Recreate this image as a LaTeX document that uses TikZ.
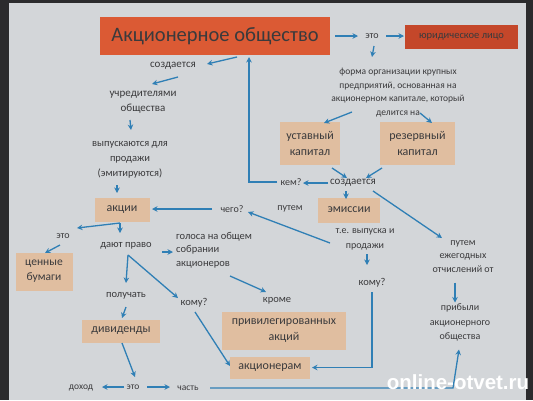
\documentclass[tikz,border=0pt]{standalone}
\usepackage{fontspec}
\setmainfont{Carlito}
\newfontfamily\wmfont{Liberation Sans}
\usetikzlibrary{calc,arrows.meta}
\definecolor{bgc}{HTML}{D3D6D9}
\definecolor{edgec}{HTML}{2B2B2D}
\definecolor{tc}{HTML}{3A3A3C}
\definecolor{ac}{HTML}{2F7FB5}
\definecolor{tanc}{HTML}{E0BEA0}
\definecolor{titlec}{HTML}{DB5A34}
\definecolor{jurc}{HTML}{C4472A}
\tikzset{
  txt/.style={font=\fontsize{11}{15}\selectfont, text=tc, align=center, inner sep=1pt},
  smalltxt/.style={font=\fontsize{9.5}{13.7}\selectfont, text=tc, align=center, inner sep=1pt},
  tanbox/.style={fill=tanc, font=\fontsize{12}{16}\selectfont, text=tc, align=center, inner sep=2pt},
  arr/.style={draw=ac, line width=1.3pt, -{Stealth[length=5.5pt,width=5.5pt]}},
}
\begin{document}
\begin{tikzpicture}[x=1pt,y=-1pt]
\useasboundingbox (0,0) rectangle (533,400);
\fill[bgc] (0,0) rectangle (533,400);
\fill[edgec] (0,0) rectangle (9,400);
\fill[edgec] (526,0) rectangle (533,400);
\fill[edgec] (0,0) rectangle (533,3);

% nodes
\node[fill=titlec, minimum width=230pt, minimum height=38pt, text=tc, font=\fontsize{20.5}{24}\selectfont] (title) at (215,36) {Акционерное общество};
\node[txt, font=\fontsize{10}{12}\selectfont] (eto1) at (372,36) {это};
\node[fill=jurc, minimum width=113pt, minimum height=24pt, text=tc, font=\fontsize{10.5}{12}\selectfont, inner sep=1pt] (jur) at (461.5,37) {юридическое лицо};
\node[smalltxt] (forma) at (398,92.5) {форма организации крупных\\предприятий, основанная на\\акционерном капитале, который\\делится на};
\node[tanbox, minimum width=60pt, minimum height=43pt] (ust) at (310,143.5) {уставный\\капитал};
\node[tanbox, minimum width=75pt, minimum height=43pt] (rez) at (417.5,143.5) {резервный\\капитал};
\node[txt] (soz2) at (353,183) {создается};
\node[txt, font=\fontsize{10}{12}\selectfont] (kem) at (291,182) {кем?};
\node[tanbox, minimum width=62pt, minimum height=25pt] (emis) at (349,210) {эмиссии};
\node[txt, font=\fontsize{10}{12}\selectfont] (putem1) at (290,209) {путем};
\node[txt, font=\fontsize{10}{15}\selectfont] (tev) at (365,239) {т.е. выпуска и\\продажи};
\node[txt, font=\fontsize{10}{12}\selectfont] (chego) at (232,209) {чего?};
\node[tanbox, minimum width=55pt, minimum height=24pt] (akcii) at (122,210) {акции};
\node[txt, font=\fontsize{10.5}{15}\selectfont] (vyp) at (130,160) {выпускаются для\\продажи\\(эмитируются)};
\node[txt] (uchr) at (143,102.5) {учредителями\\общества};
\node[txt] (soz1) at (173,66) {создается};
\node[txt, font=\fontsize{10}{12}\selectfont] (eto2) at (63,236) {это};
\node[tanbox, minimum width=57pt, minimum height=38pt, font=\fontsize{11.5}{15}\selectfont] (cen) at (44,271.5) {ценные\\бумаги};
\node[txt, font=\fontsize{10.5}{12}\selectfont] (dayut) at (126,246) {дают право};
\node[txt, align=left, anchor=west, font=\fontsize{10.5}{13.5}\selectfont] (golosa) at (175,250) {голоса на общем\\собрании\\акционеров};
\node[txt, font=\fontsize{10.5}{12}\selectfont] (poluch) at (126,296) {получать};
\node[txt, font=\fontsize{10.5}{12}\selectfont] (komu1) at (194,303) {кому?};
\node[txt, font=\fontsize{10.5}{12}\selectfont] (krome) at (277,301) {кроме};
\node[tanbox, minimum width=124pt, minimum height=38pt] (priv) at (284,331) {привилегированных\\акций};
\node[tanbox, minimum width=80pt, minimum height=22pt] (akcner) at (270,367.5) {акционерам};
\node[txt, font=\fontsize{10.5}{12}\selectfont] (komu2) at (372,283) {кому?};
\node[txt, font=\fontsize{10}{13.5}\selectfont] (putem2) at (463,256.5) {путем\\ежегодных\\отчислений от};
\node[txt, font=\fontsize{10}{14.5}\selectfont] (prib) at (460,322.5) {прибыли\\акционерного\\общества};
\node[tanbox, minimum width=78pt, minimum height=23pt] (div) at (121,331) {дивиденды};
\node[txt, font=\fontsize{9.5}{12}\selectfont] (dohod) at (81,388) {доход};
\node[txt, font=\fontsize{9.5}{12}\selectfont] (eto3) at (133,387) {это};
\node[txt, font=\fontsize{9.5}{12}\selectfont] (chast) at (188,388) {часть};
\coordinate (corner) at (453,388);

% connectors
\draw[arr] ($(title)+(120,0)$) -- ($(eto1)+(-14,0)$);
\draw[arr] ($(eto1)+(14,0)$) -- ($(jur)+(-57.5,-1)$);
\draw[arr] ($(eto1)+(2,10)$) -- ($(forma)+(-26,-35.5)$);
\draw[arr] ($(forma)+(-46,19.5)$) -- ($(ust)+(14,-20.5)$);
\draw[arr] ($(forma)+(22,20.5)$) -- ($(rez)+(14.5,-20.5)$);
\draw[arr] ($(ust)+(22,24.5)$) -- ($(soz2)+(-6,-5)$);
\draw[arr] ($(rez)+(-35.5,24.5)$) -- ($(soz2)+(13,-5)$);
\draw[arr] ($(soz2)+(-25,0)$) -- ($(kem)+(12,1)$);
\draw[arr] ($(kem)+(-14,0)$) -| ($(title)+(34,21)$);
\draw[arr] ($(soz2)+(-7,8)$) -- ($(emis)+(-3,-11)$);
\draw[arr] ($(soz2)+(20,8)$) -- ($(putem2)+(-21,-18.5)$);
\draw[arr] ($(tev)+(-35,4)$) -- ($(chego)+(16,3)$);
\draw[arr] ($(chego)+(-20,0)$) -- ($(akcii)+(30,-1)$);
\draw[arr] ($(title)+(22,21)$) -- ($(soz1)+(34,-2)$);
\draw[arr] ($(soz1)+(5,11)$) -- ($(uchr)+(9,-18.5)$);
\draw[arr] ($(uchr)+(-13,17.5)$) -- ($(vyp)+(1,-30)$);
\draw[arr] ($(vyp)+(-13,25)$) -- ($(akcii)+(-5,-17)$);
\draw[arr] ($(akcii)+(-2,13)$) -- ($(eto2)+(14,-8)$);
\draw[arr] ($(akcii)+(-2,13)$) -- ($(dayut)+(-6,-13)$);
\draw[arr] ($(eto2)+(-3,9)$) -- ($(cen)+(1,-18.5)$);
\draw[arr] ($(dayut)+(36,6)$) -- ($(golosa.west)+(-2,2)$);
\draw[arr] ($(dayut)+(2,9)$) -- ($(poluch)+(0,-13)$);
\draw[arr] ($(dayut)+(2,9)$) -- ($(komu1)+(-16,-5)$);
\draw[arr] ($(golosa.west)+(55,26)$) -- ($(krome)+(-11,-9)$);
\draw[arr] ($(komu1)+(1,9)$) -- ($(akcner)+(-40,-1.5)$);
\draw[arr] ($(tev)+(2,15)$) -- ($(komu2)+(-5,-18)$);
\draw[arr] ($(komu2)+(0,9)$) |- ($(akcner)+(42,0)$);
\draw[arr] ($(poluch)+(0,11)$) -- ($(div)+(1,-13)$);
\draw[arr] ($(div)+(1,12)$) -- ($(eto3)+(2,-10)$);
\draw[arr] ($(eto3)+(-9,0)$) -- ($(dohod)+(21,-1)$);
\draw[arr] ($(eto3)+(14,0)$) -- ($(chast)+(-18,-1)$);
\draw[arr] ($(chast)+(22,0)$) -- (corner) -- ($(prib)+(-1,27)$);
\draw[arr] ($(putem2)+(-8,26)$) -- ($(prib)+(-5,-20)$);

% watermark
\node[text=white, font=\wmfont\bfseries\fontsize{20.5}{22}\selectfont, inner sep=0pt] (wm) at (458,382) {online-otvet.ru};
\end{tikzpicture}
\end{document}
